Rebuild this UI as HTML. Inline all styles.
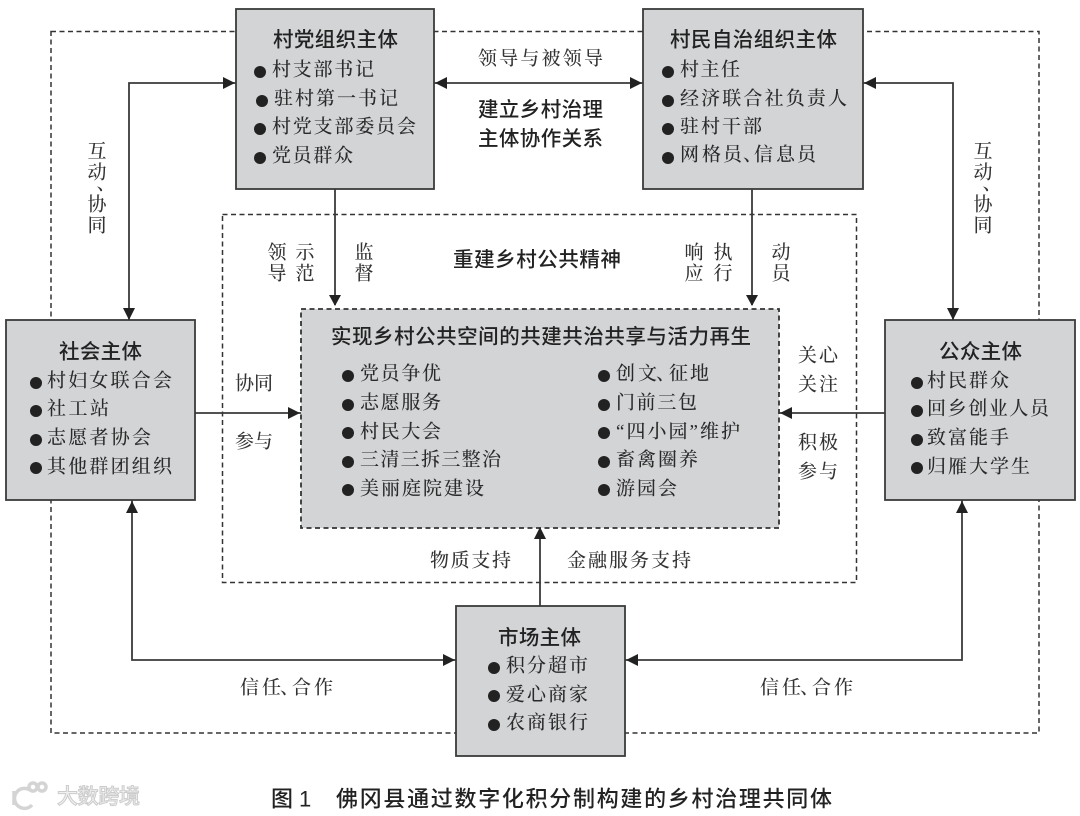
<!DOCTYPE html>
<html lang="zh">
<head>
<meta charset="utf-8">
<style>
html,body{margin:0;padding:0;background:#fff;width:1080px;height:816px;overflow:hidden}
svg{display:block}
text{dominant-baseline:central}
.t{font-family:"Liberation Sans","Noto Sans CJK SC",sans-serif;font-size:20.500px;font-weight:500;fill:#222}
.i{font-family:"Liberation Serif","Noto Serif CJK SC",serif;font-size:19px;font-weight:500;fill:#2a2a2a}
.l{font-family:"Liberation Serif","Noto Serif CJK SC",serif;font-size:19px;font-weight:500;fill:#333}
.c{font-family:"Liberation Sans","Noto Sans CJK SC",sans-serif;font-size:22px;font-weight:500;fill:#222}
.box{fill:#d3d4d6;stroke:#3a3a3a;stroke-width:1.800}
.ln{fill:none;stroke:#3a3a3a;stroke-width:1.800}
.ar{fill:#222}
.d{fill:none;stroke:#333;stroke-width:1.500;stroke-dasharray:5 3.500}
.dot{fill:#222}
</style>
</head>
<body>
<svg width="1080" height="816" viewBox="0 0 1080 816" xmlns="http://www.w3.org/2000/svg">
<rect width="1080" height="816" fill="#fff"/>

<rect class="d" x="51" y="31.500" width="988" height="701.500"/>
<rect class="d" x="222.500" y="214.500" width="634" height="368"/>

<path class="ln" d="M434 83H643"/>
<path class="ln" d="M236 83H129V320"/>
<path class="ln" d="M863 83H953V320"/>
<path class="ln" d="M335 189V305"/>
<path class="ln" d="M752 189V305"/>
<path class="ln" d="M195 413H301"/>
<path class="ln" d="M885 413H779"/>
<path class="ln" d="M540 606V528"/>
<path class="ln" d="M132 500V660H456"/>
<path class="ln" d="M962 500V660H625"/>

<rect class="box" x="236" y="9" width="198" height="180"/>
<rect class="box" x="643" y="9" width="220" height="180"/>
<rect class="box" x="6" y="320" width="189" height="180"/>
<rect class="box" x="885" y="320" width="190" height="180"/>
<rect class="box" x="456" y="606" width="169" height="150"/>
<rect x="301" y="309" width="478" height="219" fill="#d3d4d6" stroke="#333" stroke-width="1.800" stroke-dasharray="5 3.500"/>

<g class="ar">
<path d="M235 83l-12-6v12z"/>
<path d="M435 83l12-6v12z"/>
<path d="M642 83l-12-6v12z"/>
<path d="M864 83l12-6v12z"/>
<path d="M129 320l-6-12h12z"/>
<path d="M953 320l-6-12h12z"/>
<path d="M335 306l-6-11h12z"/>
<path d="M752 306l-6-11h12z"/>
<path d="M300 413l-12-6v12z"/>
<path d="M780 413l12-6v12z"/>
<path d="M540 527l-6 12h12z"/>
<path d="M132 501l-6 12h12z"/>
<path d="M962 501l-6 12h12z"/>
<path d="M455 660l-12-6v12z"/>
<path d="M626 660l12-6v12z"/>
</g>

<text class="t" x="273" y="40" textLength="125">村党组织主体</text>
<circle class="dot" cx="260" cy="72" r="6"/><text class="i" x="272" y="70" textLength="102">村支部书记</text>
<circle class="dot" cx="262" cy="101" r="6"/><text class="i" x="274" y="99" textLength="124">驻村第一书记</text>
<circle class="dot" cx="260" cy="129" r="6"/><text class="i" x="272" y="127" textLength="144">村党支部委员会</text>
<circle class="dot" cx="260" cy="158" r="6"/><text class="i" x="272" y="156" textLength="81">党员群众</text>

<text class="t" x="670" y="40" textLength="167">村民自治组织主体</text>
<circle class="dot" cx="668" cy="72" r="6"/><text class="i" x="680" y="70" textLength="60">村主任</text>
<circle class="dot" cx="668" cy="101" r="6"/><text class="i" x="680" y="99" textLength="167">经济联合社负责人</text>
<circle class="dot" cx="668" cy="129" r="6"/><text class="i" x="680" y="127" textLength="82">驻村干部</text>
<circle class="dot" cx="668" cy="158" r="6"/><text class="i" x="680 702 723 743 754 776 797" y="155">网格员、信息员</text>

<text class="t" x="59" y="352" textLength="83">社会主体</text>
<circle class="dot" cx="36" cy="383" r="6"/><text class="i" x="47" y="381" textLength="125">村妇女联合会</text>
<circle class="dot" cx="36" cy="411" r="6"/><text class="i" x="47" y="409" textLength="62">社工站</text>
<circle class="dot" cx="36" cy="440" r="6"/><text class="i" x="47" y="438" textLength="104">志愿者协会</text>
<circle class="dot" cx="36" cy="468" r="6"/><text class="i" x="47" y="467" textLength="125">其他群团组织</text>

<text class="t" x="939" y="352" textLength="83">公众主体</text>
<circle class="dot" cx="917" cy="383" r="6"/><text class="i" x="927" y="381" textLength="82">村民群众</text>
<circle class="dot" cx="917" cy="411" r="6"/><text class="i" x="927" y="409" textLength="122">回乡创业人员</text>
<circle class="dot" cx="917" cy="440" r="6"/><text class="i" x="927" y="438" textLength="82">致富能手</text>
<circle class="dot" cx="917" cy="468" r="6"/><text class="i" x="927" y="467" textLength="103">归雁大学生</text>

<text class="t" x="331" y="337" textLength="420">实现乡村公共空间的共建共治共享与活力再生</text>
<circle class="dot" cx="348" cy="376" r="6"/><text class="i" x="360" y="374" textLength="81">党员争优</text>
<circle class="dot" cx="348" cy="405" r="6"/><text class="i" x="360" y="403" textLength="81">志愿服务</text>
<circle class="dot" cx="348" cy="433" r="6"/><text class="i" x="360" y="432" textLength="81">村民大会</text>
<circle class="dot" cx="348" cy="462" r="6"/><text class="i" x="360" y="460" textLength="141">三清三拆三整治</text>
<circle class="dot" cx="348" cy="490" r="6"/><text class="i" x="360" y="489" textLength="124">美丽庭院建设</text>

<circle class="dot" cx="604" cy="376" r="6"/><text class="i" x="616 638 656 669 690" y="374">创文、征地</text>
<circle class="dot" cx="604" cy="405" r="6"/><text class="i" x="616" y="403" textLength="81">门前三包</text>
<circle class="dot" cx="604" cy="433" r="6"/><text class="i" x="616" y="432" textLength="124">“四小园”维护</text>
<circle class="dot" cx="604" cy="462" r="6"/><text class="i" x="616" y="460" textLength="82">畜禽圈养</text>
<circle class="dot" cx="604" cy="490" r="6"/><text class="i" x="616" y="489" textLength="61">游园会</text>

<text class="t" x="498" y="638" textLength="83">市场主体</text>
<circle class="dot" cx="494" cy="668" r="6"/><text class="i" x="506" y="666" textLength="82">积分超市</text>
<circle class="dot" cx="494" cy="696" r="6"/><text class="i" x="506" y="695" textLength="82">爱心商家</text>
<circle class="dot" cx="494" cy="725" r="6"/><text class="i" x="506" y="723" textLength="82">农商银行</text>

<text class="l" x="478" y="59" textLength="125">领导与被领导</text>
<text class="t" x="478" y="110" textLength="125">建立乡村治理</text>
<text class="t" x="478" y="139" textLength="125">主体协作关系</text>
<text class="t" x="453" y="260" textLength="168">重建乡村公共精神</text>

<g class="l" text-anchor="middle">
<text x="97" y="152">互</text><text x="97" y="173">动</text><text x="106" y="184">、</text><text x="97" y="205">协</text><text x="97" y="226">同</text>
<text x="983" y="152">互</text><text x="983" y="173">动</text><text x="992" y="184">、</text><text x="983" y="205">协</text><text x="983" y="226">同</text>
<text x="277" y="253">领</text><text x="277" y="274">导</text>
<text x="305" y="253">示</text><text x="305" y="274">范</text>
<text x="364" y="253">监</text><text x="364" y="274">督</text>
<text x="694" y="253">响</text><text x="694" y="274">应</text>
<text x="723" y="253">执</text><text x="723" y="274">行</text>
<text x="781" y="253">动</text><text x="781" y="274">员</text>
</g>

<text class="l" x="235" y="384" textLength="38">协同</text>
<text class="l" x="235" y="442" textLength="38">参与</text>
<text class="l" x="798" y="356" textLength="40">关心</text>
<text class="l" x="798" y="385" textLength="40">关注</text>
<text class="l" x="798" y="443" textLength="40">积极</text>
<text class="l" x="798" y="472" textLength="40">参与</text>
<text class="l" x="430" y="561" textLength="81">物质支持</text>
<text class="l" x="567" y="561" textLength="124">金融服务支持</text>
<text class="l" x="240 262 280 292 314" y="688">信任、合作</text>
<text class="l" x="760 782 800 812 834" y="688">信任、合作</text>

<text class="c" x="271" y="799">图</text>
<text class="c" x="299" y="799">1</text>
<text class="c" x="336" y="799" textLength="496">佛冈县通过数字化积分制构建的乡村治理共同体</text>

<g fill="none" stroke="#d4d4d4" stroke-width="3.500">
<path d="M14 791v14"/>
<path d="M30 790a10 10 0 1 0 2 15"/>
<circle cx="33" cy="787" r="4"/>
<circle cx="42" cy="787" r="4"/>
</g>
<text x="57" y="797" textLength="83" font-family="&quot;Liberation Sans&quot;,&quot;Noto Sans CJK SC&quot;,sans-serif" font-size="21" font-weight="500" fill="#f0f0f0" stroke="#cccccc" stroke-width="1">大数跨境</text>
</svg>
</body>
</html>
